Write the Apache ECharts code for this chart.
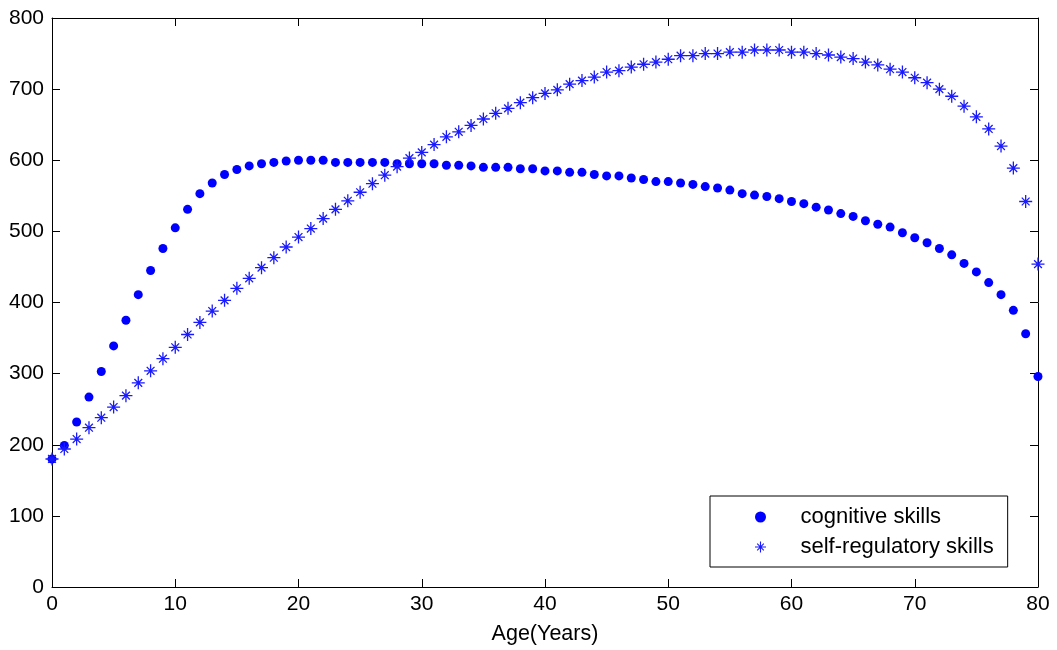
<!DOCTYPE html>
<html>
<head>
<meta charset="utf-8">
<script src="https://cdn.jsdelivr.net/npm/echarts@6/dist/echarts.min.js"></script>
<style>
html,body{margin:0;padding:0;background:#fff;}
#chart{width:1057px;height:650px;}
</style>
</head>
<body>
<div id="chart"></div>
<script>
const ages = [0,1,2,3,4,5,6,7,8,9,10,11,12,13,14,15,16,17,18,19,20,21,22,23,24,25,26,27,28,29,30,31,32,33,34,35,36,37,38,39,40,41,42,43,44,45,46,47,48,49,50,51,52,53,54,55,56,57,58,59,60,61,62,63,64,65,66,67,68,69,70,71,72,73,74,75,76,77,78,79,80];
const cognitive = [180,199,232,267,303,339,375,411,445,476,505,531,553,568,580,587,592,595,597,599,600,600,600,597,597,597,597,597,595,595,595,595,593,593,592,590,590,590,588,588,585,585,583,583,580,578,578,575,573,570,570,568,566,563,561,558,553,551,549,546,542,539,534,530,525,521,515,510,506,498,491,484,476,467,455,443,428,411,389,356,296];
const selfRegulatory = [180,194,208,224,238,253,269,287,304,321,337,355,372,388,403,420,434,449,463,478,492,504,518,531,543,555,567,579,591,603,611,622,633,640,649,658,666,673,681,688,694,699,707,712,717,724,726,731,735,738,742,747,747,750,750,752,752,755,755,755,752,752,750,748,745,743,738,734,728,724,716,709,700,690,676,661,644,620,589,542,454];
const xTicks = [0,10,20,30,40,50,60,70,80];
const yTicks = [0,100,200,300,400,500,600,700,800];
const seriesNames = ['cognitive skills','self-regulatory skills'];
const xName = 'Age(Years)';

const asterisk = 'path://M-1,-10L1,-10L1,10L-1,10Z M-10,-1L10,-1L10,1L-10,1Z M-6.7,-5.3L-5.3,-6.7L6.7,5.3L5.3,6.7Z M5.3,-6.7L6.7,-5.3L-5.3,6.7L-6.7,5.3Z';
const FONT = 'Liberation Sans, Arial, sans-serif';

const chart = echarts.init(document.getElementById('chart'), null, {renderer:'canvas'});
const axisCommon = {
  axisLine:{show:true,onZero:false,lineStyle:{color:'#000',width:1}},
  axisTick:{show:true,inside:true,length:8,lineStyle:{color:'#000',width:1}},
  splitLine:{show:false}
};
chart.setOption({
  animation:false,
  backgroundColor:'#fff',
  grid:{left:52,right:19,top:18,bottom:63,containLabel:false},
  xAxis:[
    Object.assign({type:'value',min:xTicks[0],max:xTicks[xTicks.length-1],interval:10,position:'bottom',
      name:xName,nameLocation:'middle',nameGap:36,
      nameTextStyle:{color:'#000',fontSize:21.5,fontFamily:FONT},
      axisLabel:{color:'#000',fontSize:21,fontFamily:FONT,margin:7}},axisCommon),
    Object.assign({type:'value',min:xTicks[0],max:xTicks[xTicks.length-1],interval:10,position:'top',
      axisLabel:{show:false}},axisCommon)
  ],
  yAxis:[
    Object.assign({type:'value',min:yTicks[0],max:yTicks[yTicks.length-1],interval:100,position:'left',
      axisLabel:{color:'#000',fontSize:21,fontFamily:FONT,margin:8}},axisCommon),
    Object.assign({type:'value',min:yTicks[0],max:yTicks[yTicks.length-1],interval:100,position:'right',
      axisLabel:{show:false}},axisCommon)
  ],
  legend:{
    orient:'vertical',
    left:710, top:496,
    padding:[10,14,9,45],
    itemWidth:70, itemHeight:11, itemGap:8,
    backgroundColor:'#fff',
    borderColor:'#000', borderWidth:1,
    textStyle:{color:'#000',fontSize:22,fontFamily:FONT},
    data:[{name:seriesNames[0],icon:'circle'},{name:seriesNames[1],icon:asterisk}]
  },
  series:[
    {name:seriesNames[0],type:'scatter',symbol:'circle',symbolSize:9,
      itemStyle:{color:'#0000ff',opacity:1},
      data:ages.map((a,i)=>[a,cognitive[i]])},
    {name:seriesNames[1],type:'scatter',symbol:asterisk,symbolSize:13,
      itemStyle:{color:'#1a1aff',opacity:1},
      data:ages.map((a,i)=>[a,selfRegulatory[i]])}
  ]
});
</script>
</body>
</html>
